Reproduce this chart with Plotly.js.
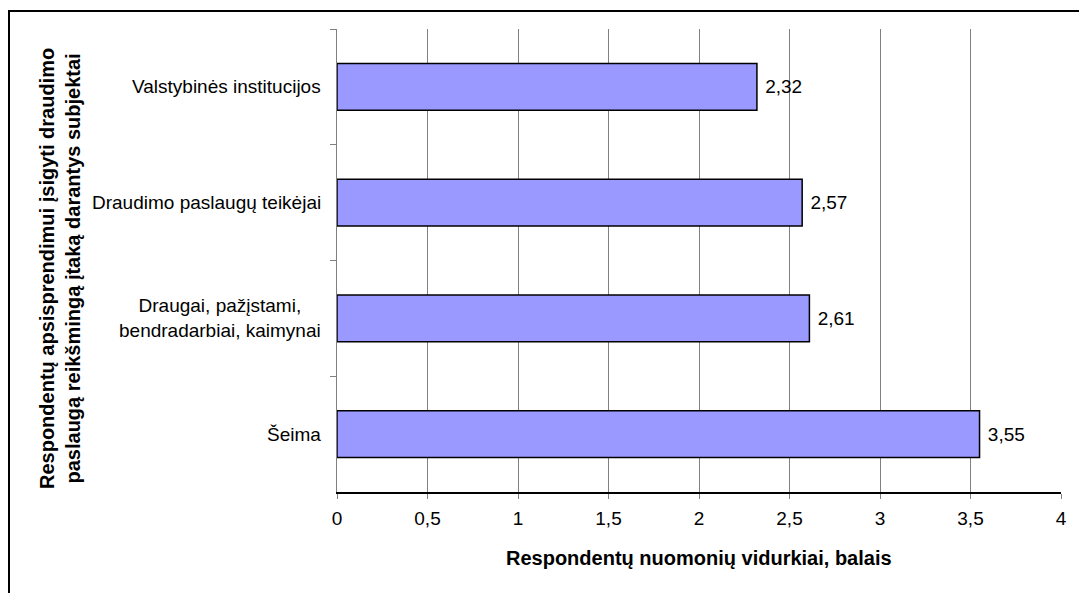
<!DOCTYPE html>
<html>
<head>
<meta charset="utf-8">
<script src="https://cdn.plot.ly/plotly-3.0.1.min.js"></script>
<style>
html,body{margin:0;padding:0;background:#fff;}
#chart{width:1079px;height:593px;}
</style>
</head>
<body>
<div id="chart"></div>
<script>
// Categories listed top to bottom
const categories = [
  "Valstybinės institucijos",
  "Draudimo paslaugų teikėjai",
  "Draugai, pažįstami,<br>bendradarbiai, kaimynai",
  "Šeima"
];
const values = [2.32, 2.57, 2.61, 3.55];
const xTickValues = [0, 0.5, 1, 1.5, 2, 2.5, 3, 3.5, 4];
const xTitle = "Respondentų nuomonių vidurkiai, balais";
const yTitle = "Respondentų apsisprendimui įsigyti draudimo<br>paslaugą reikšmingą įtaką darantys subjektai";

const W = 1079, H = 593;
const M = {l: 337, r: 18, t: 29, b: 101};
const pw = W - M.l - M.r, ph = H - M.t - M.b;
const px = v => (v - M.l) / pw;
const py = v => 1 - (v - M.t) / ph;

const FONT = "Liberation Sans, Arial, sans-serif";
const FS = 19;

const trace = {
  type: "bar",
  orientation: "h",
  y: categories,
  x: values,
  marker: {color: "#9999FF", line: {color: "#000000", width: 1.5}},
  texttemplate: " %{x:.2f}",
  textposition: "outside",
  cliponaxis: false,
  textfont: {family: FONT, size: FS, color: "#000"},
  hoverinfo: "skip"
};

const annotations = categories.map(c => ({
  xref: "paper", yref: "y",
  x: 0, y: c,
  xanchor: "right", yanchor: "middle",
  xshift: -14,
  text: c, showarrow: false, align: "center",
  font: {family: FONT, size: FS, color: "#000"}
}));
annotations.push({
  xref: "paper", yref: "paper",
  x: 0.5, y: py(558),
  xanchor: "center", yanchor: "middle",
  text: "<b>" + xTitle + "</b>", showarrow: false,
  font: {family: FONT, size: 20, color: "#000"}
});
annotations.push({
  xref: "paper", yref: "paper",
  x: px(60), y: py(269),
  xanchor: "center", yanchor: "middle",
  textangle: -90,
  text: "<b>" + yTitle + "</b>", showarrow: false, align: "center",
  font: {family: FONT, size: 20, color: "#000"}
});

const layout = {
  width: W, height: H,
  margin: M,
  paper_bgcolor: "#fff", plot_bgcolor: "#fff",
  separators: ", ",
  showlegend: false,
  bargap: 0.594,
  font: {family: FONT, size: FS, color: "#000"},
  xaxis: {
    range: [0, 4],
    tickvals: xTickValues,
    tickformat: ".1~f",
    showgrid: true, gridcolor: "#808080", gridwidth: 1,
    zeroline: false,
    showline: true, linecolor: "#000", linewidth: 1.5,
    ticks: "outside", ticklen: 5, tickcolor: "#808080",
    ticklabelstandoff: 4,
    tickfont: {family: FONT, size: FS, color: "#000"},
    fixedrange: true
  },
  yaxis: {
    type: "category",
    autorange: "reversed",
    showticklabels: false,
    tickson: "boundaries",
    ticks: "outside", ticklen: 6, tickcolor: "#808080",
    showgrid: false, zeroline: false,
    showline: true, linecolor: "#808080", linewidth: 1.5,
    fixedrange: true
  },
  annotations: annotations,
  shapes: [{
    type: "rect", xref: "paper", yref: "paper",
    x0: px(9), x1: px(1100), y0: py(620), y1: py(11),
    line: {color: "#000", width: 2}, fillcolor: "rgba(0,0,0,0)", layer: "above"
  }]
};

Plotly.newPlot("chart", [trace], layout, {displayModeBar: false, staticPlot: true});
</script>
</body>
</html>
